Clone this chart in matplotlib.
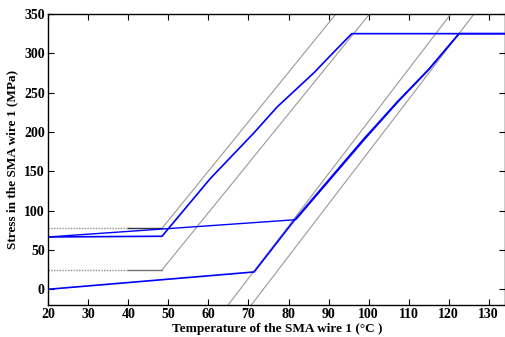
import matplotlib
matplotlib.use("Agg")
import matplotlib.pyplot as plt

plt.rcParams['font.family'] = ['Liberation Serif', 'DejaVu Serif']
plt.rcParams['font.weight'] = 'bold'

# Stress-temperature path of SMA wire 1
heat1_T = [20, 71.4, 81.5, 98.6, 107.2, 114.9, 122.6, 134.5]
heat1_S = [0, 22.0, 88.0, 190, 238.5, 279, 325, 325]

heat2_T = [20, 81.4, 81.9, 98.9, 107.4, 115.0, 122.6]
heat2_S = [66.5, 88.3, 89.0, 190, 238.5, 279, 325]

cool_T = [134.5, 95.8, 89.3, 86.5, 77.2, 71.3, 60.5, 48.4, 20]
cool_S = [325, 325, 291, 276, 232, 198.5, 141, 67.4, 66.5]

# Transformation boundaries (martensite: left pair, austenite: right pair)
mart_lo_T = [48.4, 108.2]
mart_lo_S = [24.6, 400]
mart_hi_T = [48.4, 99.8]
mart_hi_S = [77.5, 400]
aus_start_T = [63.4, 128.05]
aus_start_S = [-30, 400]
aus_finish_T = [69.2, 133.85]
aus_finish_S = [-30, 400]

# Critical stress levels below the martensite start temperature
crit_T_dotted = [20, 40]
crit_T_solid = [40, 48.4]
crit_S = [24.6, 77.5]

fig = plt.figure(figsize=(5.06, 3.37), dpi=100)
ax = fig.add_axes([48.3 / 506, 1 - 305 / 337, (505.5 - 48.3) / 506, (305 - 14) / 337])

gray = (0.6, 0.6, 0.6)
for s, c in zip(crit_S, ['0.45', '0.2']):
    ax.plot(crit_T_dotted, [s, s], linestyle=(0, (1, 1)), color='0.55', lw=1.0)
    ax.plot(crit_T_solid, [s, s], linestyle='-', color=c, lw=1.0)

for T, S in [(mart_lo_T, mart_lo_S), (mart_hi_T, mart_hi_S),
             (aus_start_T, aus_start_S), (aus_finish_T, aus_finish_S)]:
    ax.plot(T, S, color=gray, lw=0.8)

blue = (0, 0, 1)
ax.plot(heat1_T, heat1_S, color=blue, lw=1.2)
ax.plot(heat2_T, heat2_S, color=blue, lw=1.0)
ax.plot(cool_T, cool_S, color=blue, lw=1.2)

ax.set_xlim(20, 134.2)
ax.set_ylim(-20, 350)
ax.set_xticks(range(20, 131, 10))
ax.set_yticks(range(0, 351, 50))
ax.tick_params(direction='in', top=True, right=True, length=4, width=0.8,
               labelsize=10, pad=2.5)
for lab in ax.get_xticklabels() + ax.get_yticklabels():
    lab.set_fontweight('bold')
for sp in ax.spines.values():
    sp.set_linewidth(1.0)

ax.set_xlabel('Temperature of the SMA wire 1 (°C )', fontsize=9.5,
              fontweight='bold', labelpad=1)
ax.set_ylabel('Stress in the SMA wire 1 (MPa)', fontsize=9.5,
              fontweight='bold', labelpad=4)

fig.savefig('out.png', dpi=100)
